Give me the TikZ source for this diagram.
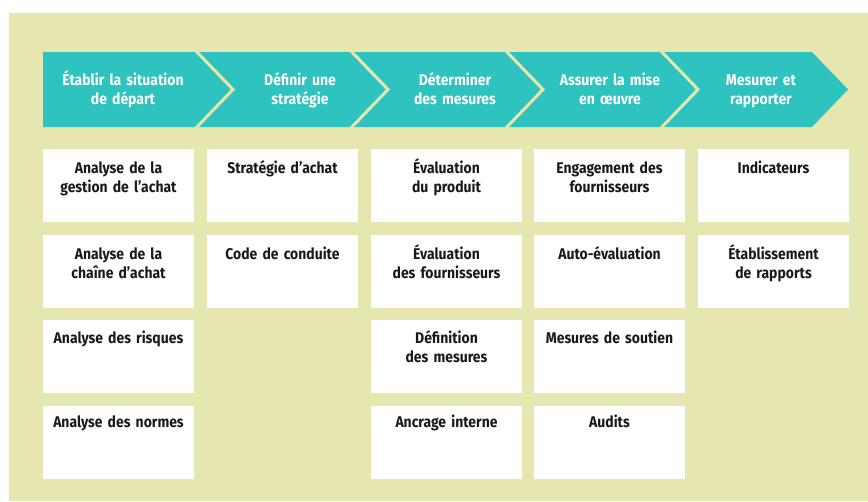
\documentclass[tikz,border=0pt]{standalone}
\usepackage{fontspec}
\newfontfamily\lbl[FakeStretch=0.9]{Fira Sans}
\definecolor{bgyel}{RGB}{230,230,176}
\definecolor{teal1}{RGB}{46,195,191}
\definecolor{txt}{RGB}{25,25,25}
\tikzset{
  band/.style={fill=teal1, draw=none},
  sep/.style={draw=bgyel, line width=3pt, line join=miter},
  hdr/.style={text=white, font=\lbl\bfseries\fontsize{15.5}{19}\selectfont, text width=150pt, align=center, anchor=base, inner sep=0pt},
  cell/.style={fill=white, draw=none, minimum width=151pt, minimum height=73pt, anchor=north west, inner sep=0pt},
  celltxt/.style={text=txt, font=\lbl\bfseries\fontsize{15.5}{19}\selectfont, text width=150pt, align=center, anchor=base, inner sep=0pt}
}
\begin{document}
\begin{tikzpicture}[x=1pt,y=-1pt]
\useasboundingbox (0,0) rectangle (868,501);
\fill[white] (0,0) rectangle (868,501);
\fill[bgyel] (9,13) rectangle (868,501);
% band
\path[band] (43,52) -- (812,52) -- (848,89.5) -- (812,127) -- (43,127) -- cycle;
\foreach \sx in {195,350,505,660}{
  \draw[sep] (\sx,50) -- (\sx+38,89.5) -- (\sx,129);
}
\node[hdr] (h1) at (123,85) {Établir la situation\\de départ};
\node[hdr] (h2) at (300,85) {Définir une\\stratégie};
\node[hdr] (h3) at (455,85) {Déterminer\\des mesures};
\node[hdr] (h4) at (610,85) {Assurer la mise\\en œuvre};
\node[hdr] (h5) at (761,85) {Mesurer et\\rapporter};
% cells
\newcommand{\cellat}[5]{%
  \node[cell] (#1) at (#2,#3) {};
  \node[celltxt] (#1t) at (#2+75.5,#3+#4) {#5};
}
\cellat{c11}{43}{149}{24}{Analyse de la\\gestion de l’achat}
\cellat{c12}{43}{235}{24}{Analyse de la\\chaîne d’achat}
\cellat{c13}{43}{320}{23}{Analyse des risques}
\cellat{c14}{43}{406}{21}{Analyse des normes}
\cellat{c21}{207}{149}{24}{Stratégie d’achat}
\cellat{c22}{207}{235}{24}{Code de conduite}
\cellat{c31}{371}{149}{24}{Évaluation\\du produit}
\cellat{c32}{371}{235}{24}{Évaluation\\des fournisseurs}
\cellat{c33}{371}{320}{23}{Définition\\des mesures}
\cellat{c34}{371}{406}{21}{Ancrage interne}
\cellat{c41}{534}{149}{24}{Engagement des\\fournisseurs}
\cellat{c42}{534}{235}{24}{Auto-évaluation}
\cellat{c43}{534}{320}{23}{Mesures de soutien}
\cellat{c44}{534}{406}{21}{Audits}
\cellat{c51}{698}{149}{24}{Indicateurs}
\cellat{c52}{698}{235}{24}{Établissement\\de rapports}
\end{tikzpicture}
\end{document}
